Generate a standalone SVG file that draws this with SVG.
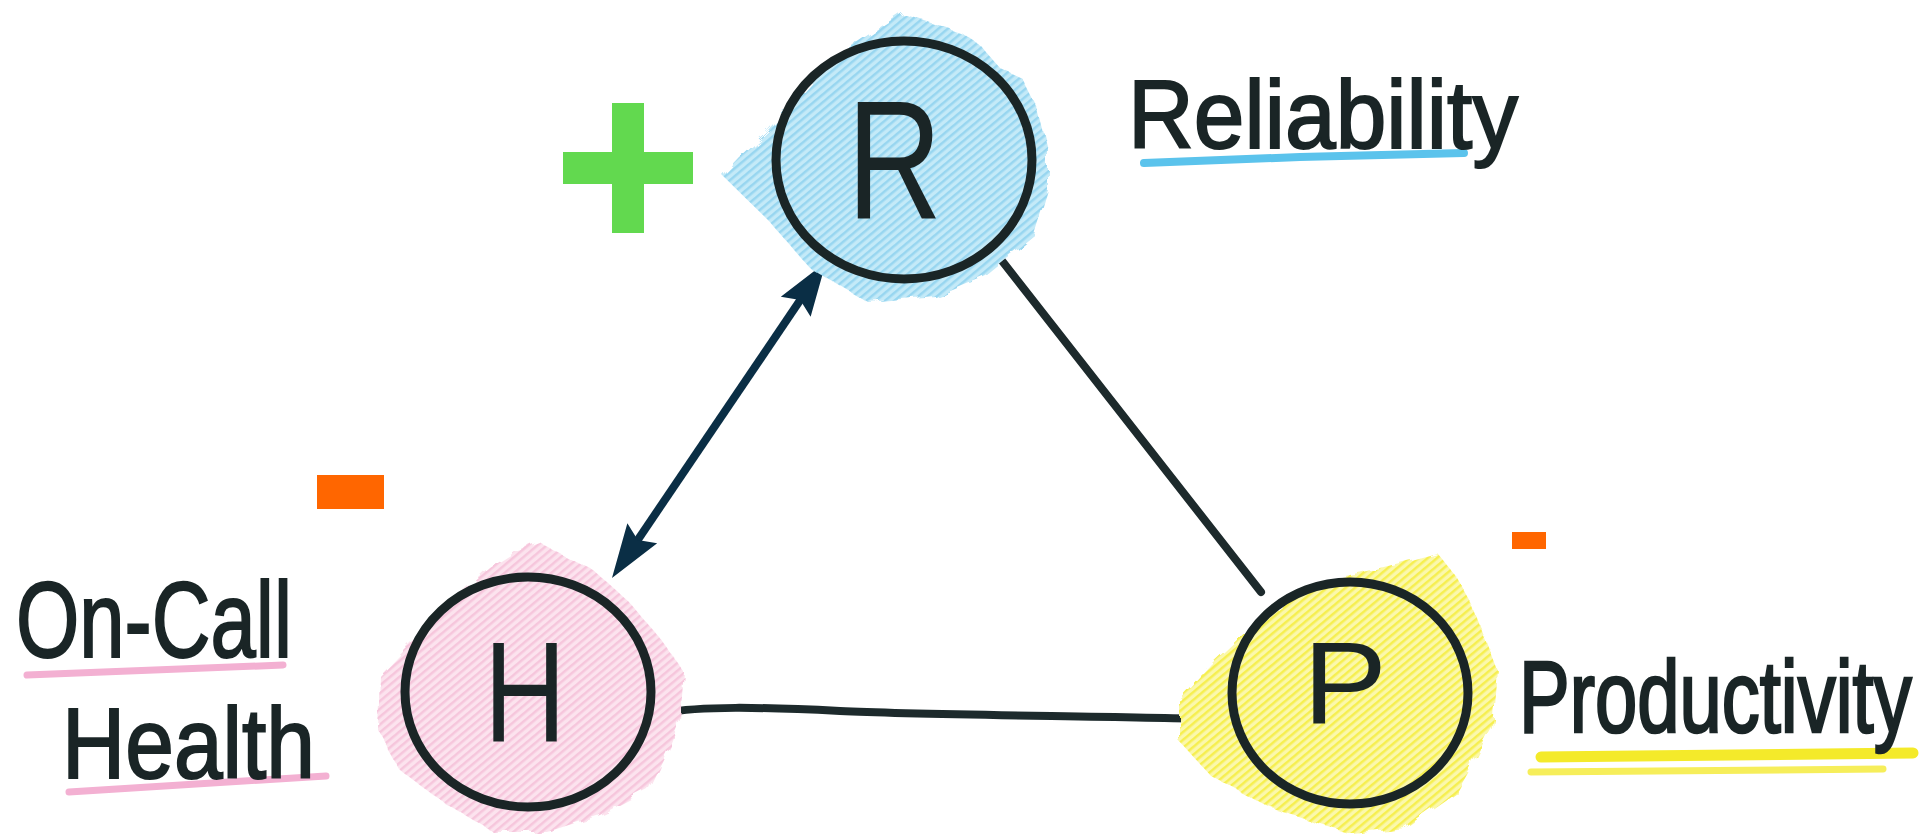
<svg xmlns="http://www.w3.org/2000/svg" width="1932" height="834" viewBox="0 0 1932 834">
  <style>
    .ring { fill: none; stroke: #1a2526; stroke-width: 9; }
    .letter { font-family: "Liberation Sans", Arial, sans-serif; fill: #1a2526; }
    .label { font-family: "Liberation Sans", Arial, sans-serif; fill: #1a2526; stroke: #1a2526; stroke-width: 2; }
    .edge { fill: none; stroke: #1d2a2c; stroke-width: 8; stroke-linecap: round; }
    .arrow { fill: none; stroke: #0a2e45; stroke-width: 8; stroke-linecap: butt; marker-start: url(#head); marker-end: url(#head); }
    .ul { fill: none; stroke-linecap: round; }
  </style>
  <defs>
    <marker id="head" markerUnits="userSpaceOnUse" markerWidth="56" markerHeight="40" refX="34" refY="20" orient="auto-start-reverse" viewBox="0 0 56 40">
      <path d="M0,2 L54,20 L0,38 L8,20 Z" fill="#0a2e45"/>
    </marker>
    <pattern id="hatchB" width="6" height="6" patternUnits="userSpaceOnUse" patternTransform="rotate(-40)">
      <rect width="6" height="6" fill="#c4eaf8"/>
      <rect width="6" height="2.5" fill="#98d6f0"/>
    </pattern>
    <pattern id="hatchK" width="6" height="6" patternUnits="userSpaceOnUse" patternTransform="rotate(-40)">
      <rect width="6" height="6" fill="#fce3ee"/>
      <rect width="6" height="2.5" fill="#f6c6dc"/>
    </pattern>
    <pattern id="hatchY" width="6" height="6" patternUnits="userSpaceOnUse" patternTransform="rotate(-40)">
      <rect width="6" height="6" fill="#fbf8ac"/>
      <rect width="6" height="2.5" fill="#f6ef50"/>
    </pattern>
    <filter id="rough" x="-10%" y="-10%" width="120%" height="120%">
      <feTurbulence type="fractalNoise" baseFrequency="0.06" numOctaves="2" seed="3"/>
      <feDisplacementMap in="SourceGraphic" scale="10"/>
    </filter>
    <mask id="mB"><polygon filter="url(#rough)" fill="#fff" points="902,13 930,22 962,33 980,45 1000,68 1022,78 1038,110 1048,150 1048,190 1034,235 985,275 935,296 868,302 810,268 768,220 723,176 740,158 768,132 800,95 833,58 868,35"/></mask>
    <mask id="mK"><polygon filter="url(#rough)" fill="#fff" points="540,543 593,570 627,600 660,638 684,672 680,720 670,745 648,790 600,815 547,832 493,832 440,800 400,770 378,730 380,676 400,655 427,628 460,595 490,568 515,552"/></mask>
    <mask id="mY"><polygon filter="url(#rough)" fill="#fff" points="1437,553 1455,575 1472,605 1497,670 1492,728 1455,793 1405,828 1353,834 1270,808 1210,775 1180,742 1180,700 1212,665 1252,628 1297,594 1337,578 1388,566"/></mask>
  </defs>
  <rect width="1932" height="834" fill="#ffffff"/>

  <g id="connectors">
    <path class="arrow" d="M623.2,561.4 L814.8,278.6"/>
    <path class="edge" d="M999,257 L1261,592"/>
    <path class="edge" d="M664,713 C700,706 760,707 840,711 S1100,716 1207,719"/>
  </g>

  <g id="node-R">
    <rect x="700" y="0" width="370" height="320" fill="url(#hatchB)" mask="url(#mB)"/>
    <ellipse class="ring" cx="904" cy="160" rx="128" ry="119"/>
    <text class="letter" x="847" y="218" font-size="168" textLength="95" lengthAdjust="spacingAndGlyphs">R</text>
    <path class="ul" d="M1144,163 L1300,157 L1464,153" stroke="#5bc3ec" stroke-width="8"/>
    <text class="label" x="1128" y="148" font-size="96" textLength="390" lengthAdjust="spacingAndGlyphs">Reliability</text>
  </g>

  <g id="node-H">
    <rect x="360" y="530" width="340" height="304" fill="url(#hatchK)" mask="url(#mK)"/>
    <ellipse class="ring" cx="528" cy="692" rx="123" ry="115"/>
    <text class="letter" x="484" y="742" font-size="143" textLength="82" lengthAdjust="spacingAndGlyphs">H</text>
    <path class="ul" d="M27,675 L283,665" stroke="#f3b0d2" stroke-width="7"/>
    <path class="ul" d="M69,792 L326,776" stroke="#f3b0d2" stroke-width="7"/>
    <text class="label" x="16" y="657" font-size="108" textLength="276" lengthAdjust="spacingAndGlyphs">On-Call</text>
    <text class="label" x="62" y="778" font-size="100" textLength="253" lengthAdjust="spacingAndGlyphs">Health</text>
  </g>

  <g id="node-P">
    <rect x="1160" y="540" width="350" height="294" fill="url(#hatchY)" mask="url(#mY)"/>
    <ellipse class="ring" cx="1350" cy="693" rx="118" ry="111"/>
    <text class="letter" x="1303" y="723" font-size="116" textLength="84" lengthAdjust="spacingAndGlyphs">P</text>
    <path class="ul" d="M1541,757 L1913,753" stroke="#f4ea2a" stroke-width="11"/>
    <path class="ul" d="M1531,772 L1883,769" stroke="#f6ee5a" stroke-width="7"/>
    <text class="label" transform="translate(1519,732) scale(1,1.35)" x="0" y="0" font-size="76">Productivity</text>
  </g>

  <g id="plus">
    <rect x="612" y="103" width="32" height="130" fill="#62d94f"/>
    <rect x="563" y="152" width="130" height="32" fill="#62d94f"/>
  </g>
  <g id="minus-H">
    <rect x="317" y="475" width="67" height="34" fill="#ff6600"/>
  </g>
  <g id="minus-P">
    <rect x="1512" y="532" width="34" height="17" fill="#ff6600"/>
  </g>
</svg>
